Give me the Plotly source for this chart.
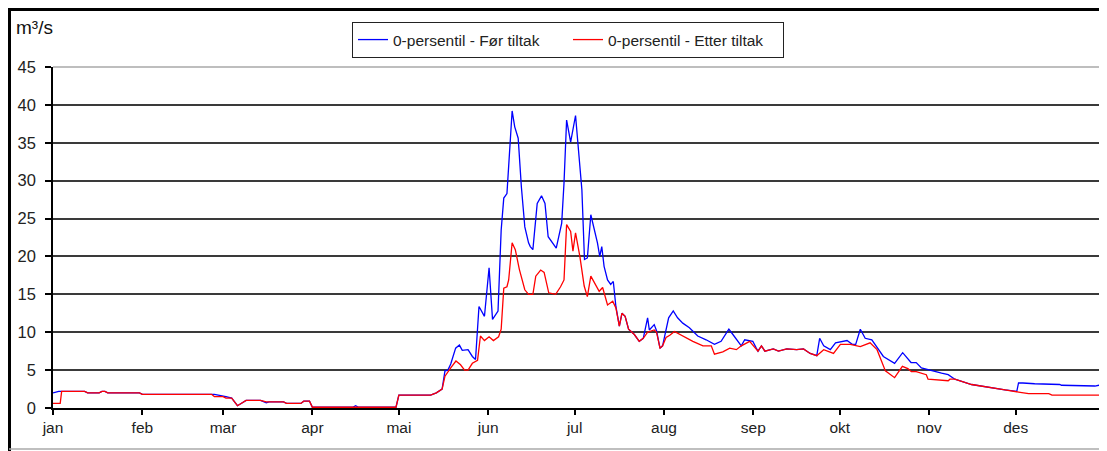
import pandas as pd
import plotly.graph_objects as go

# dag i året (0 = 1. jan) og vannføring i m3/s, lest av figuren
dag_for = [0, 2, 11, 12, 16, 17, 18, 19, 30, 31, 56, 58, 60, 62, 64, 67, 72, 74, 75, 80, 81, 86, 87, 89,
           90, 104, 105, 106, 119, 120, 131, 133, 135, 136, 137, 138, 139.7, 141, 142, 144, 145.5, 146.6,
           147.8, 149.7, 151.3, 152.5, 154.4, 155.5, 156.4, 157.5, 158.1, 159.3, 160.2, 161.4, 162.5,
           163.7, 165, 165.6, 166.5, 168, 169.5, 170.7, 171.8, 173.2, 174.6, 176.5, 177.3, 178.2, 179.6,
           181.3, 182.3, 183.5, 184.4, 185.4, 186.6, 187.8, 188.9, 189.7, 190.4, 191.2, 192.4, 193.5,
           194.4, 195.3, 196.5, 197.4, 198.5, 199.7, 201.7, 203.4, 204.8, 206.3, 206.9, 208.6, 209.4,
           210.6, 211.5, 213.6, 215.2, 216.7, 218.5, 220.8, 223.7, 226.6, 229.5, 231.8, 234.5, 235.9,
           238.8, 240, 242.8, 244, 244.6, 245.8, 247, 249.9, 251.7, 254.6, 258, 260.4, 262.7, 265, 266,
           267.4, 269.7, 271.5, 275.5, 277.3, 278.5, 280.1, 281.8, 284.1, 286.4, 288.1, 292, 294.8,
           297.7, 299.5, 301.3, 304.8, 308.3, 310.6, 312.9, 318.7, 324.5, 330.3, 334.4, 335, 336.5,
           340.6, 349.3, 349.9, 361.5, 362.9, 364.5]
for_tiltak = [2.0, 2.2, 2.2, 2.0, 2.0, 2.2, 2.2, 2.0, 2.0, 1.8, 1.8, 1.7, 1.5, 1.3, 0.3, 1.0, 1.0, 0.7, 0.8,
              0.8, 0.6, 0.6, 0.9, 0.9, 0.1, 0.1, 0.3, 0.1, 0.1, 1.7, 1.7, 2.0, 2.5, 4.9, 5.0, 5.8, 7.9, 8.3,
              7.6, 7.7, 6.8, 6.4, 13.4, 12.1, 18.5, 11.7, 12.8, 23.5, 27.7, 28.3, 31.8, 39.2, 37.1, 35.6,
              29.2, 23.9, 21.8, 21.3, 20.9, 27.0, 28.0, 27.0, 22.6, 21.8, 21.1, 24.4, 29.7, 38.0, 35.1,
              38.6, 34.5, 28.8, 19.6, 19.8, 25.5, 23.7, 21.8, 20.0, 21.3, 18.7, 16.9, 16.3, 16.7, 13.4,
              10.8, 12.5, 12.1, 10.4, 9.7, 8.8, 9.2, 11.9, 10.3, 11.0, 10.2, 7.9, 8.2, 11.9, 12.8, 11.9,
              11.2, 10.6, 9.5, 9.0, 8.4, 8.8, 10.4, 9.7, 8.2, 9.0, 8.8, 7.9, 7.5, 8.2, 7.5, 7.8, 7.5, 7.8,
              7.7, 7.8, 7.2, 6.9, 9.2, 8.2, 7.7, 8.6, 8.9, 8.4, 8.4, 10.4, 9.2, 9.0, 7.8, 6.8, 5.9, 7.3,
              6.0, 6.0, 5.3, 4.9, 4.6, 4.4, 3.8, 3.1, 2.7, 2.4, 2.2, 3.3, 3.3, 3.2, 3.1, 3.0, 2.9, 3.0, 2.7]

dag_etter = [0, 2.5, 3, 11, 12, 16, 17, 18, 19, 30, 31, 55, 56, 59, 60, 62, 64, 67, 72, 74, 80, 81, 86, 87,
             89, 90, 119, 120, 131, 133, 135, 136, 138, 139.8, 141.4, 142.8, 144, 145.5, 147.3, 148.3,
             149.7, 151.3, 152.8, 154.6, 155.5, 156.4, 157.5, 158.1, 159.3, 160.4, 161.8, 163.7, 165,
             166.5, 167.5, 169.2, 170.4, 172, 174.4, 176.1, 177.3, 178.2, 179.6, 180.4, 181.3, 182.8,
             184.3, 185.4, 186.6, 188.4, 189.5, 190.7, 192.4, 194.2, 195.3, 196.5, 197.4, 198.5, 199.7,
             201.7, 203.4, 204.8, 206.3, 208.6, 209.4, 210.6, 211.5, 212.7, 214, 215.6, 218.5, 222,
             225.5, 228.4, 229.5, 232.4, 234.8, 237.1, 238.8, 241.7, 244.6, 245.8, 247, 249.9, 251.7,
             254.6, 258, 260.4, 262.7, 265, 267.4, 270.8, 273.2, 276.6, 280.1, 283.5, 285.9, 287.6,
             288.8, 292, 294.7, 296.6, 297.8, 299.5, 303, 303.6, 308.3, 310.6, 311.2, 312.9, 318.7,
             324.5, 330.3, 335, 338.5, 345.5, 346.6, 364.5]
etter_tiltak = [0.6, 0.6, 2.2, 2.2, 2.0, 2.0, 2.2, 2.2, 2.0, 2.0, 1.8, 1.8, 1.5, 1.5, 1.3, 1.3, 0.3, 1.0,
                1.0, 0.8, 0.8, 0.6, 0.6, 0.9, 0.9, 0.1, 0.1, 1.7, 1.7, 2.0, 2.5, 4.2, 5.3, 6.2, 5.7, 5.0,
                5.0, 5.9, 6.3, 9.5, 8.9, 9.4, 8.9, 9.4, 10.4, 15.8, 16.0, 16.9, 21.8, 20.9, 18.3, 15.6,
                15.0, 15.0, 17.4, 18.2, 17.9, 15.2, 15.0, 16.0, 16.9, 24.2, 23.3, 20.7, 23.1, 20.0, 16.1,
                14.7, 17.4, 16.1, 15.4, 15.9, 13.6, 14.1, 13.2, 10.8, 12.5, 12.1, 10.4, 9.7, 8.8, 9.2,
                10.0, 10.3, 10.0, 7.9, 8.2, 9.3, 9.6, 10.1, 9.5, 8.8, 8.2, 8.2, 7.1, 7.4, 7.9, 7.7, 8.2,
                8.8, 7.5, 8.2, 7.5, 7.8, 7.5, 7.8, 7.7, 7.8, 7.2, 6.9, 7.7, 7.2, 8.4, 8.4, 8.1, 8.6, 7.7,
                6.2, 4.9, 4.0, 5.5, 5.2, 4.8, 4.8, 4.4, 3.8, 3.6, 3.6, 3.8, 3.8, 3.1, 2.7, 2.4, 2.1, 1.9,
                1.9, 1.7, 1.7]

maaneder = ["jan", "feb", "mar", "apr", "mai", "jun", "jul", "aug", "sep", "okt", "nov", "des"]

start = pd.Timestamp("2001-01-01")
x_for = start + pd.to_timedelta(dag_for, unit="D")
x_etter = start + pd.to_timedelta(dag_etter, unit="D")
tickvals = list(pd.date_range("2001-01-01", "2002-01-01", freq="MS"))
ticktext = maaneder + [""]

FONT = "Arial, Liberation Sans, sans-serif"

fig = go.Figure()
fig.add_trace(go.Scatter(x=x_for, y=for_tiltak, mode="lines", name="0-persentil - Før tiltak",
                         line=dict(color="#0000ff", width=1.3)))
fig.add_trace(go.Scatter(x=x_etter, y=etter_tiltak, mode="lines", name="0-persentil - Etter tiltak",
                         line=dict(color="#ff0000", width=1.3)))

# siden har 8 px marg i body, så figuren er 8 px mindre og alt forskyves
OFF = 8
FW, FH = 1107 - OFF, 451 - OFF
L, R, T, B = 53 - OFF, 1105 - OFF, 67 - OFF, 408 - OFF
W, H = R - L, B - T
px = lambda p: (p - OFF - L) / W      # p = piksel i skjermbildet
py = lambda p: (B - (p - OFF)) / H

fig.update_layout(
    width=FW, height=FH,
    margin=dict(l=L, r=FW - R, t=T, b=FH - B, autoexpand=False),
    paper_bgcolor="white", plot_bgcolor="white",
    font=dict(family=FONT, size=14, color="#222"),
    showlegend=True,
    legend=dict(orientation="h", x=px(568), xanchor="center", y=py(22), yanchor="top",
                bordercolor="#222", borderwidth=1, font=dict(size=15.5, color="#222"),
                itemwidth=30, tracegroupgap=0, entrywidth=170, entrywidthmode="pixels"),
    shapes=[
        dict(type="line", xref="paper", yref="paper", x0=px(8), x1=px(1107), y0=py(9.5), y1=py(9.5),
             line=dict(color="black", width=3)),
        dict(type="line", xref="paper", yref="paper", x0=px(9.5), x1=px(9.5), y0=py(8), y1=py(451),
             line=dict(color="black", width=3)),
        dict(type="line", xref="paper", yref="paper", x0=px(9), x1=px(1107), y0=py(449), y1=py(449),
             line=dict(color="#aaaaaa", width=1.5)),
        dict(type="line", xref="paper", yref="paper", x0=0, x1=1, y0=1, y1=1,
             line=dict(color="#a8a8a8", width=1.5), layer="above"),
        dict(type="line", xref="paper", yref="paper", x0=1, x1=1, y0=0, y1=1,
             line=dict(color="#a8a8a8", width=1.5), layer="above"),
    ],
    annotations=[dict(text="m³/s", xref="paper", yref="paper", x=px(14), y=py(27),
                      xanchor="left", yanchor="middle", showarrow=False,
                      font=dict(size=19, color="#111"))],
)

fig.update_xaxes(type="date", range=[start, pd.Timestamp("2002-01-01")],
                 tickmode="array", tickvals=tickvals, ticktext=ticktext,
                 ticks="outside", ticklen=5, tickcolor="black", tickwidth=1.5,
                 showline=True, linecolor="black", linewidth=1.5, showgrid=False,
                 automargin=False, tickfont=dict(size=15.5, color="#222"))
fig.update_yaxes(range=[0, 45], dtick=5, ticks="outside", ticklen=6, tickcolor="black", tickwidth=1.5,
                 showline=True, linecolor="black", linewidth=1.5, ticklabelstandoff=6,
                 showgrid=True, gridcolor="#3a3a3a", gridwidth=1.7, zeroline=False,
                 automargin=False, tickfont=dict(size=16.5, color="#222"))

fig.write_html("out.html")
